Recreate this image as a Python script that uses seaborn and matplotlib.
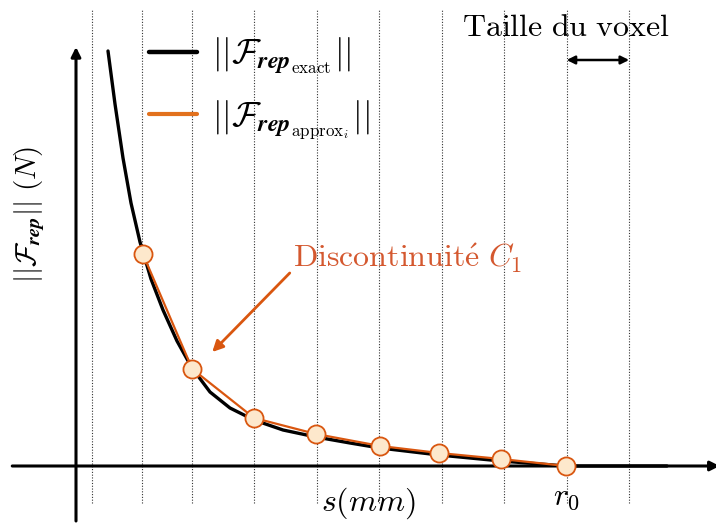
import pandas as pd
import seaborn as sns
import matplotlib.pyplot as plt
from matplotlib.lines import Line2D

# exact repulsion force curve
S_EXACT = [0.512, 0.624, 0.752, 0.880, 1.024, 1.200, 1.392, 1.616, 1.856,
           2.144, 2.464, 2.848, 3.312, 3.840, 4.384, 4.864, 5.808, 6.800,
           7.840, 9.456]
F_EXACT = [4.15, 3.62, 3.08, 2.63, 2.24, 1.87, 1.56, 1.25, 0.98,
           0.74, 0.58, 0.46, 0.36, 0.29, 0.23, 0.18, 0.11, 0.05,
           0.0, 0.0]

# approximation sampled at voxel centres
S_APPROX = [1.07, 1.86, 2.85, 3.84, 4.87, 5.81, 6.80, 7.84]
F_APPROX = [2.12, 0.97, 0.48, 0.32, 0.20, 0.13, 0.07, 0.0]

# voxel boundaries (dotted lines)
S_GRID = [0.25, 1.05, 1.85, 2.85, 3.85, 4.85, 5.85, 6.85, 7.85, 8.85]
R0 = 7.84

BLACK = 'black'
ORANGE = '#d9560f'
ORANGE_LEG = '#e2711d'
TEXT_ORANGE = '#d4582f'
FACE = '#fde8cc'
FS = 23

df_exact = pd.DataFrame({'s': S_EXACT, 'F': F_EXACT})
df_approx = pd.DataFrame({'s': S_APPROX, 'F': F_APPROX})

sns.set_theme(style='white')
plt.rcParams['mathtext.fontset'] = 'cm'
plt.rcParams['font.family'] = ['DejaVu Serif']
plt.rcParams['text.color'] = 'black'

fig = plt.figure(figsize=(7.16, 5.23), dpi=100)
ax = fig.add_axes([0, 0, 1, 1])
ax.set_xlim(-1.216, 10.24)
ax.set_ylim(-0.57, 4.66)
ax.axis('off')

# dotted voxel lines
ax.vlines(S_GRID, -0.37, 4.56, colors='#333333',
          linestyles=(0, (1, 1.5)), lw=0.8, zorder=1)

# axes with arrows
ax.annotate('', xy=(10.3, 0), xytext=(-1.02, 0), annotation_clip=False,
            arrowprops=dict(arrowstyle='-|>', lw=2.2, color='black',
                            mutation_scale=14, shrinkA=0, shrinkB=0), zorder=2)
ax.annotate('', xy=(0, 4.19), xytext=(0, -0.55), annotation_clip=False,
            arrowprops=dict(arrowstyle='-|>', lw=2.2, color='black',
                            mutation_scale=14, shrinkA=0, shrinkB=0), zorder=2)

# curves
sns.lineplot(data=df_exact, x='s', y='F', color=BLACK, lw=2.4, ax=ax,
             zorder=3, legend=False, solid_joinstyle='round')
sns.lineplot(data=df_approx, x='s', y='F', color=ORANGE, lw=1.6, ax=ax,
             zorder=4, legend=False)
sns.scatterplot(data=df_approx, x='s', y='F', s=170, color=FACE,
                edgecolor=ORANGE, linewidth=1.3, ax=ax, zorder=5, legend=False)
ax.set_xlabel('')
ax.set_ylabel('')

# legend
handles = [Line2D([], [], color=BLACK, lw=3.2),
           Line2D([], [], color=ORANGE_LEG, lw=3.0)]
labels = [r'$||\boldsymbol{\mathcal{F}}_{\boldsymbol{rep}_{\mathrm{exact}}}||$',
          r'$||\boldsymbol{\mathcal{F}}_{\boldsymbol{rep}_{\mathrm{approx}_i}}||$']
ax.legend(handles, labels, loc='upper left', bbox_to_anchor=(0.165, 0.99),
          frameon=False, fontsize=25, handlelength=1.38, handletextpad=0.43,
          labelspacing=0.6)

# labels
ax.text(0.041, 0.59, r'$||\boldsymbol{\mathcal{F}}_{\boldsymbol{rep}}||\ (N)$',
        transform=ax.transAxes, rotation=90, ha='center', va='center',
        fontsize=21)
ax.text(0.515, 0.038, r'$s(mm)$', transform=ax.transAxes, ha='center',
        va='center', fontsize=FS)
ax.text(R0, -0.31, r'$r_0$', ha='center', va='center', fontsize=FS)

# voxel size indicator
ax.text(0.79, 0.947, r'$\mathrm{Taille\ du\ voxel}$', transform=ax.transAxes,
        ha='center', va='center', fontsize=FS)
ax.annotate('', xy=(S_GRID[-1], 4.06), xytext=(S_GRID[-2], 4.06),
            arrowprops=dict(arrowstyle='<|-|>', lw=1.8, color='black',
                            mutation_scale=12, shrinkA=0, shrinkB=0))

# discontinuity annotation
ax.text(3.47, 2.08, r'$\mathrm{Discontinuit\acute{e}}\ C_1$',
        color=TEXT_ORANGE, fontsize=FS, ha='left', va='center')
ax.annotate('', xy=(2.18, 1.14), xytext=(3.42, 1.93),
            arrowprops=dict(arrowstyle='-|>', lw=2.0, color=ORANGE,
                            mutation_scale=16, shrinkA=0, shrinkB=0))

fig.savefig('out.png', dpi=100)
